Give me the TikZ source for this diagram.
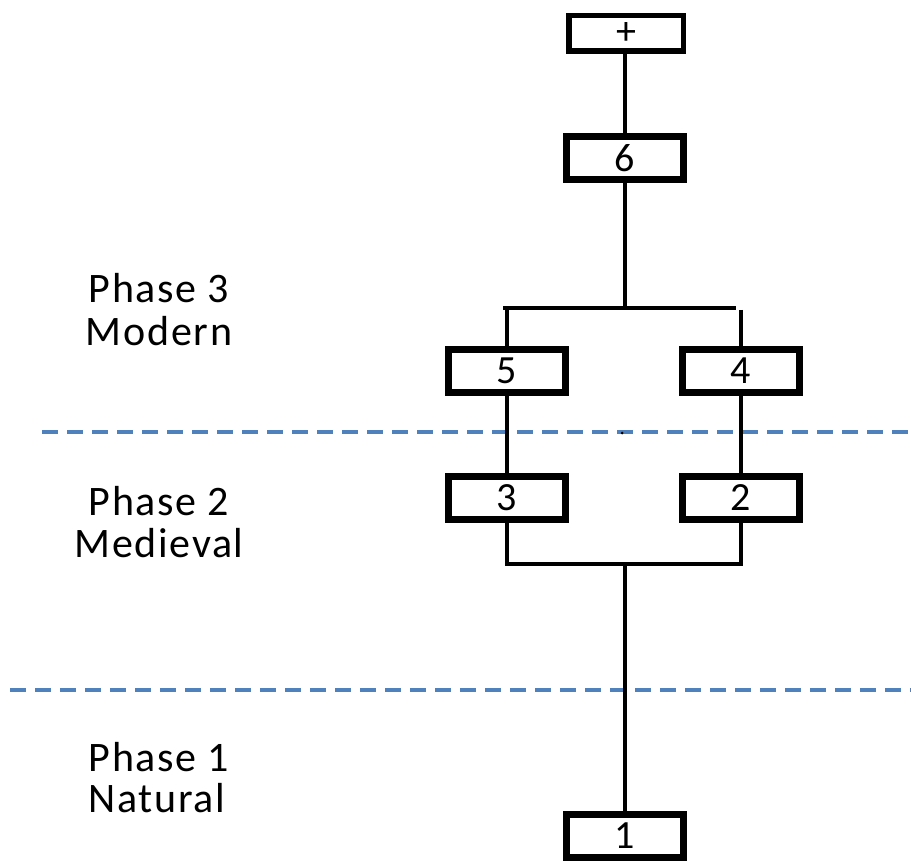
\documentclass[tikz,border=0pt]{standalone}
\usepackage{fontspec}
\setmainfont{Carlito}
\definecolor{dashblue}{RGB}{79,129,189}
\begin{document}
\begin{tikzpicture}[x=1pt,y=-1pt,
  numbox/.style={draw=black, line width=7pt, fill=white, minimum width=117pt, minimum height=43pt, inner sep=0pt, text depth=0pt,
    font=\fontsize{40}{42}\selectfont},
  topbox/.style={numbox, line width=5.5pt, minimum width=114.5pt, minimum height=35.5pt},
  conn/.style={line width=4pt, draw=black},
  phaseline/.style={draw=dashblue, line width=4.5pt, dash pattern=on 16pt off 9pt},
  phaselabel/.style={anchor=base, inner sep=0pt, font=\fontsize{42}{44}\selectfont\addfontfeature{LetterSpace=4}}]
\useasboundingbox (0,0) rectangle (911,861);

% phase separators
\coordinate (d1a) at (42,432);
\coordinate (d1b) at (911,432);
\coordinate (d2a) at (10,690);
\coordinate (d2b) at (911,690);
\draw[phaseline] (d1a) -- (d1b);
\draw[phaseline] (d2a) -- (d2b);
\fill[black] (622,433) circle (1.5);

% phase labels
\node[phaselabel] (p3a) at (159,303) {Phase 3};
\node[phaselabel] (p3b) at (159,345) {Modern};
\node[phaselabel] (p2a) at (159,515) {Phase 2};
\node[phaselabel] (p2b) at (159,557) {Medieval};
\node[phaselabel] (p1a) at (159,771) {Phase 1};
\node[phaselabel] (p1b) at (157,812) {Natural};

% junction coordinates
\coordinate (jtop) at (625,308);
\coordinate (jtl) at (503,308);
\coordinate (jtr) at (736,308);
\coordinate (jl) at (507,308);
\coordinate (jr) at (741,310);
\coordinate (jbot) at (625,564);

% connectors (drawn before boxes)
\draw[conn] (625,54) -- (625,133);
\draw[conn] (625,183) -- (jtop);
\draw[conn] (jtl) -- (jtr);
\draw[conn] (jl) -- (507,346);
\draw[conn] (jr) -- (741,346);
\draw[conn] (507,396) -- (507,473);
\draw[conn] (741,396) -- (741,473);
\draw[conn] (507,522) -- (507,566);
\draw[conn] (741,522) -- (741,566);
\draw[conn] (505,564) -- (743,564);
\draw[conn] (jbot) -- (625,812);

% boxes
\node[topbox] (plus) at (626,33.5) {+};
\node[numbox] (n6) at (624.5,158) {6};
\node[numbox] (n5) at (507,371) {5};
\node[numbox] (n4) at (741,371) {4};
\node[numbox] (n3) at (507,497.5) {3};
\node[numbox] (n2) at (741,497.5) {2};
\node[numbox] (n1) at (624.5,836) {1};
\end{tikzpicture}
\end{document}
